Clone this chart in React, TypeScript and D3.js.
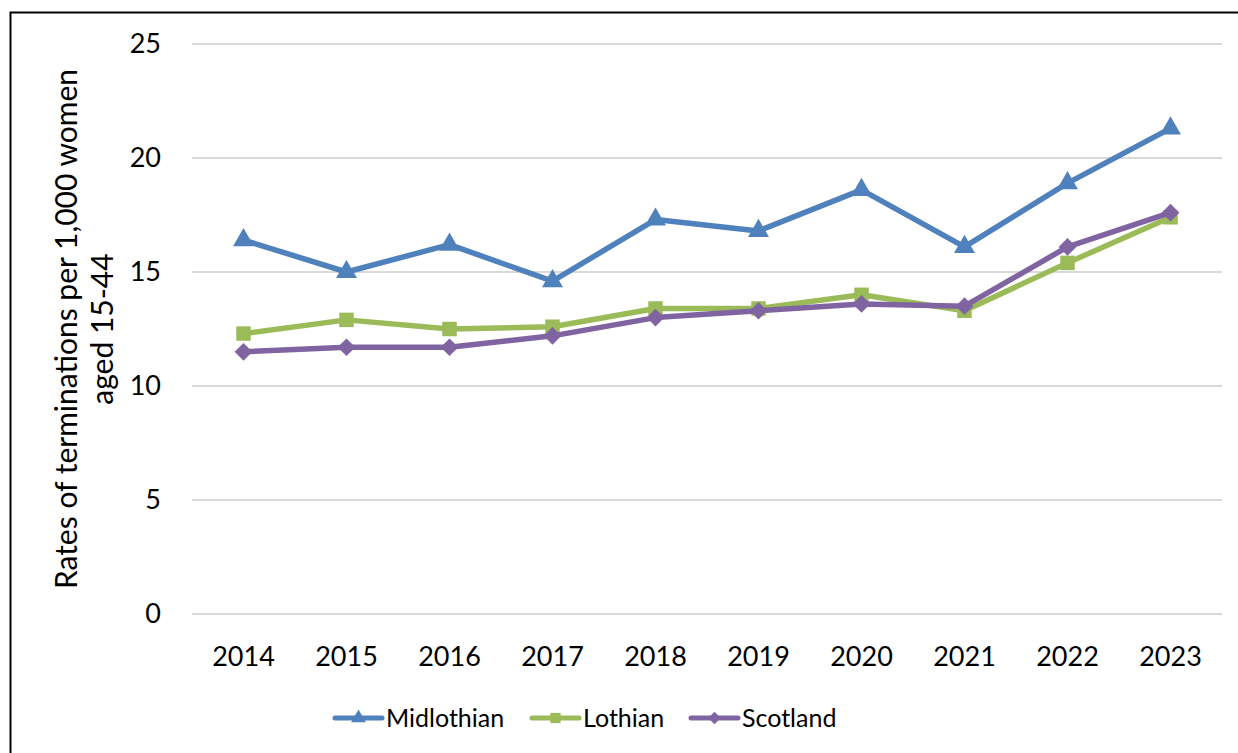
import { useEffect, useRef } from 'react';
import * as d3 from 'd3';

const years = ['2014', '2015', '2016', '2017', '2018', '2019', '2020', '2021', '2022', '2023'];
const midlothian = [16.4, 15.0, 16.2, 14.6, 17.3, 16.8, 18.6, 16.1, 18.9, 21.3];
const lothian = [12.3, 12.9, 12.5, 12.6, 13.4, 13.4, 14.0, 13.3, 15.4, 17.4];
const scotland = [11.5, 11.7, 11.7, 12.2, 13.0, 13.3, 13.6, 13.5, 16.1, 17.6];
const yTicks = [0, 5, 10, 15, 20, 25];

const seriesList = [
  { name: 'Midlothian', values: midlothian, color: '#4f81bd', symbol: d3.symbolTriangle, size: 190 },
  { name: 'Lothian', values: lothian, color: '#9bbb59', symbol: d3.symbolSquare, size: 210 },
  { name: 'Scotland', values: scotland, color: '#8064a2', symbol: d3.symbolDiamond2, size: 200 },
];

const W = 1238;
const H = 753;
const FONT = 'Lato, "Open Sans", sans-serif';

const App = () => {
  const svgRef = useRef<SVGSVGElement>(null);

  useEffect(() => {
    const svg = d3.select(svgRef.current);
    svg.selectAll('*').remove();

    svg.append('rect')
      .attr('x', 10.5).attr('y', 12.5)
      .attr('width', W + 10).attr('height', H + 10)
      .attr('fill', 'white').attr('stroke', 'black').attr('stroke-width', 2);

    const x = d3.scalePoint<string>().domain(years).range([192, 1222]).padding(0.5);
    const y = d3.scaleLinear().domain([0, 25]).range([614, 44]);

    // gridlines
    svg.append('g')
      .selectAll('line')
      .data(yTicks)
      .join('line')
      .attr('x1', 192).attr('x2', 1222)
      .attr('y1', d => y(d)).attr('y2', d => y(d))
      .attr('stroke', '#d9d9d9').attr('stroke-width', 2);

    // y tick labels
    svg.append('g')
      .selectAll('text')
      .data(yTicks)
      .join('text')
      .attr('x', 161).attr('y', d => y(d))
      .attr('dy', '0.35em')
      .attr('text-anchor', 'end')
      .style('font-family', FONT).style('font-size', '27px')
      .text(d => d);

    // x labels
    svg.append('g')
      .selectAll('text')
      .data(years)
      .join('text')
      .attr('x', d => x(d)!).attr('y', 666)
      .attr('text-anchor', 'middle')
      .style('font-family', FONT).style('font-size', '27px')
      .text(d => d);

    // y axis title
    const title = svg.append('text')
      .attr('transform', 'translate(0,329) rotate(-90)')
      .attr('text-anchor', 'middle')
      .style('font-family', FONT).style('font-size', '30px');
    title.append('tspan').attr('x', 0).attr('y', 77).text('Rates of terminations per 1,000 women');
    title.append('tspan').attr('x', 0).attr('y', 113).text('aged 15-44');

    const line = d3.line<number>()
      .x((_, i) => x(years[i])!)
      .y(d => y(d));

    seriesList.forEach(s => {
      svg.append('path')
        .datum(s.values)
        .attr('d', line)
        .attr('fill', 'none')
        .attr('stroke', s.color)
        .attr('stroke-width', 5.5)
        .attr('stroke-linejoin', 'round');

      svg.append('g')
        .selectAll('path')
        .data(s.values)
        .join('path')
        .attr('transform', (d, i) => `translate(${x(years[i])},${y(d)})`)
        .attr('d', d3.symbol().type(s.symbol).size(s.size)())
        .attr('fill', s.color);
    });

    // legend
    const legendX = [335, 532, 691];
    seriesList.forEach((s, i) => {
      const g = svg.append('g').attr('transform', `translate(${legendX[i]},718)`);
      g.append('line')
        .attr('x1', 0).attr('x2', 47)
        .attr('stroke', s.color).attr('stroke-width', 5).attr('stroke-linecap', 'round');
      g.append('path')
        .attr('transform', 'translate(23.5,0)')
        .attr('d', d3.symbol().type(s.symbol).size(s.size * 0.5)())
        .attr('fill', s.color);
      g.append('text')
        .attr('x', 51).attr('dy', '0.35em')
        .style('font-family', FONT).style('font-size', '25px')
        .text(s.name);
    });
  }, []);

  return (
    <svg
      ref={svgRef}
      width={W}
      height={H}
      style={{ position: 'absolute', left: 0, top: 0, display: 'block', background: 'white' }}
    />
  );
};

export default App;
